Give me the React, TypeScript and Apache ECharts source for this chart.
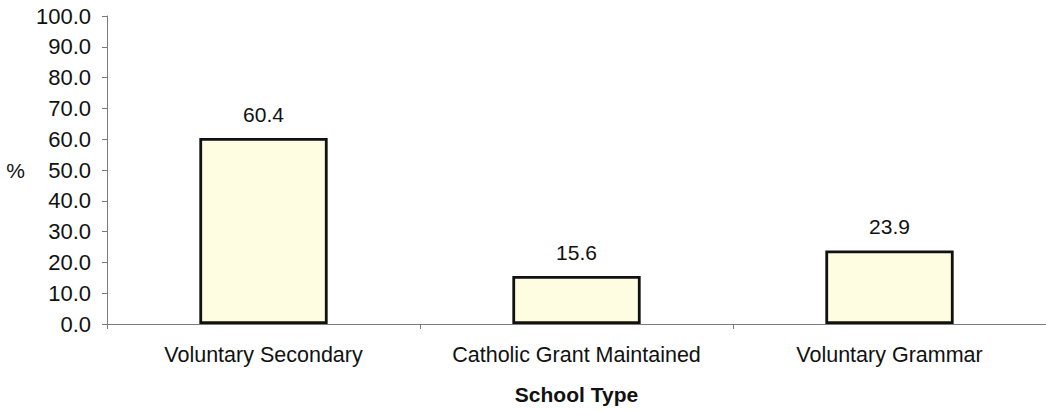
import React, { useEffect, useRef } from "react";
import * as echarts from "echarts";

// School types and their share (%)
const categories = ["Voluntary Secondary", "Catholic Grant Maintained", "Voluntary Grammar"];
const values = [60.4, 15.6, 23.9];

const yMin = 0;
const yMax = 100;
const yStep = 10;

const FONT = "'Liberation Sans', Arial, sans-serif";

export default function App() {
  const ref = useRef<HTMLDivElement>(null);

  useEffect(() => {
    if (!ref.current) return;
    const chart = echarts.init(ref.current, undefined, { renderer: "svg" });
    chart.setOption({
      animation: false,
      backgroundColor: "#ffffff",
      grid: { left: 107, right: 0, top: 16, bottom: 87, containLabel: false },
      xAxis: {
        type: "category",
        data: categories,
        name: "School Type",
        nameLocation: "middle",
        nameGap: 60,
        nameTextStyle: { fontFamily: FONT, fontSize: 21, fontWeight: "bold", color: "#111" },
        axisLine: { show: true, lineStyle: { color: "#7a7a80", width: 1 } },
        axisTick: { show: true, length: 5, lineStyle: { color: "#7a7a80" } },
        axisLabel: {
          fontFamily: FONT,
          fontSize: 21.5,
          color: "#111",
          margin: 20,
          interval: 0,
          hideOverlap: false,
        },
      },
      yAxis: {
        type: "value",
        min: yMin,
        max: yMax,
        interval: yStep,
        name: "%",
        nameLocation: "middle",
        nameRotate: 0,
        nameGap: 82,
        nameTextStyle: { fontFamily: FONT, fontSize: 21, color: "#111" },
        axisLine: { show: true, lineStyle: { color: "#7a7a80", width: 1 } },
        axisTick: { show: true, length: 5, lineStyle: { color: "#7a7a80" } },
        splitLine: { show: false },
        axisLabel: {
          fontFamily: FONT,
          fontSize: 22,
          color: "#111",
          margin: 16,
          formatter: (v: number) => v.toFixed(1),
        },
      },
      series: [
        {
          type: "bar",
          data: values,
          barWidth: "41%",
          itemStyle: { color: "#fefde2", borderColor: "#111", borderWidth: 2.8 },
          label: {
            show: true,
            position: "top",
            distance: 13,
            fontFamily: FONT,
            fontSize: 21,
            color: "#111",
            formatter: (p: any) => Number(p.value).toFixed(1),
          },
        },
      ],
    });
    return () => chart.dispose();
  }, []);

  return (
    <div
      ref={ref}
      style={{ position: "fixed", left: 0, top: 0, width: 1046, height: 411, background: "#fff" }}
    />
  );
}
